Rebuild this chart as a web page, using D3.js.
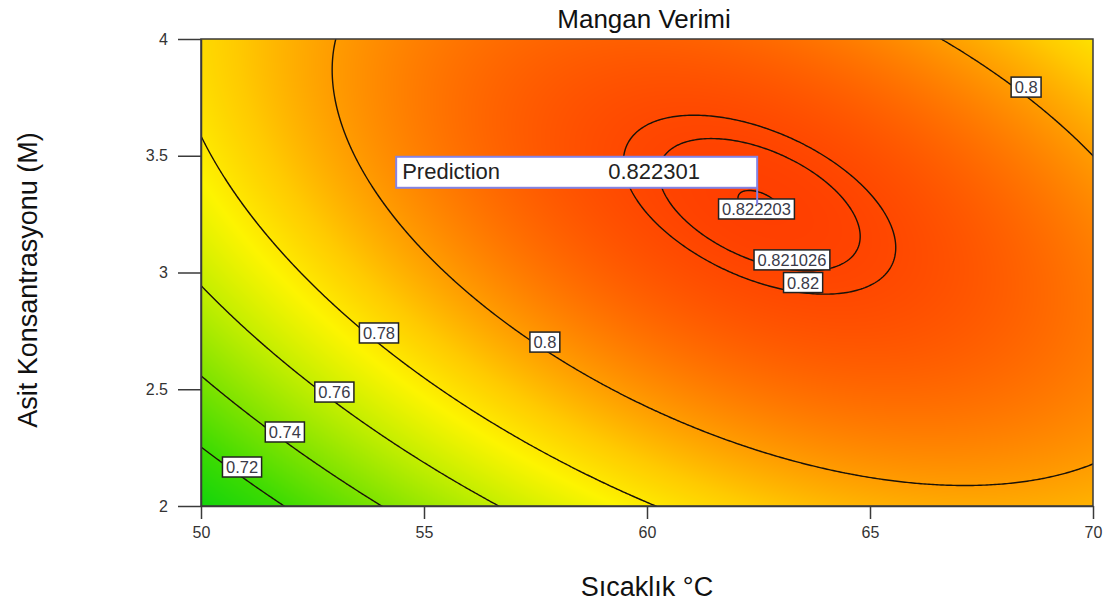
<!DOCTYPE html>
<html>
<head>
<meta charset="utf-8">
<script src="https://cdn.jsdelivr.net/npm/d3@7"></script>
<style>
  body { margin: 0; background: #fff; }
  svg { display: block; font-family: "Liberation Sans", Arial, sans-serif; }
</style>
</head>
<body>
<svg id="chart" width="1107" height="605"></svg>
<script>
// ---------------- data ----------------
const chartTitle = "Mangan Verimi";
const xAxisTitle = "Sıcaklık °C";
const yAxisTitle = "Asit Konsantrasyonu (M)";
const xDomain = [50, 70];            // temperature °C
const yDomain = [2, 4];              // acid concentration M
const xTickValues = [50, 55, 60, 65, 70];
const xTickLabels = ["50", "55", "60", "65", "70"];
const yTickValues = [2, 2.5, 3, 3.5, 4];
const yTickLabels = ["2", "2.5", "3", "3.5", "4"];

// fitted quadratic response surface, coded units: A = (T-60)/10, B = (C-3)/1
const modelTerms = ["Intercept", "A", "B", "AB", "A²", "B²"];
const modelCoefficients = [0.8168, 0.0229, 0.0177, -0.0241, -0.0315, -0.0200];

const contourLevels = [0.72, 0.74, 0.76, 0.78, 0.80, 0.82, 0.821026, 0.822203];
const labelTexts = ["0.72", "0.74", "0.76", "0.78", "0.8", "0.8", "0.82", "0.821026", "0.822203"];
const labelTemps = [50.92, 51.88, 52.99, 53.99, 57.71, 68.50, 63.50, 63.25, 62.455];
const labelAcids = [2.167, 2.317, 2.488, 2.741, 2.702, 3.794, 2.957, 3.054, 3.272];

const predictionLabel = "Prediction";
const predictionValue = "0.822301";
const predictionPoint = [62.47, 3.29];

const colorValues = [0.700, 0.720, 0.740, 0.760, 0.776, 0.789, 0.800, 0.812, 0.8225];
const colorList = ["#12d40c", "#3cdb02", "#7ee300", "#c4ee00", "#fdf400", "#ffca00", "#ff9c00", "#ff6a00", "#ff3e00"];

// ---------------- setup ----------------
const svg = d3.select("#chart");
const plot = { left: 201, right: 1093, top: 39, bottom: 506 };
const W = plot.right - plot.left, H = plot.bottom - plot.top;

const x = d3.scaleLinear().domain(xDomain).range([plot.left, plot.right]);
const y = d3.scaleLinear().domain(yDomain).range([plot.bottom, plot.top]);
const color = d3.scaleLinear().domain(colorValues).range(colorList)
  .interpolate(d3.interpolateRgb).clamp(true);

function model(T, C) {
  const A = (T - 60) / 10, B = (C - 3);
  const c = modelCoefficients;
  return c[0] + c[1] * A + c[2] * B + c[3] * A * B + c[4] * A * A + c[5] * B * B;
}

// ---------------- colour field ----------------
const canvas = document.createElement("canvas");
canvas.width = W; canvas.height = H;
const ctx = canvas.getContext("2d");
const img = ctx.createImageData(W, H);
for (let j = 0; j < H; j++) {
  const C = y.invert(plot.top + j + 0.5);
  for (let i = 0; i < W; i++) {
    const T = x.invert(plot.left + i + 0.5);
    const rgb = d3.rgb(color(model(T, C)));
    const k = (j * W + i) * 4;
    img.data[k] = rgb.r; img.data[k + 1] = rgb.g; img.data[k + 2] = rgb.b; img.data[k + 3] = 255;
  }
}
ctx.putImageData(img, 0, 0);

svg.append("defs").append("clipPath").attr("id", "plotClip")
  .append("rect").attr("x", plot.left).attr("y", plot.top).attr("width", W).attr("height", H);

svg.append("image")
  .attr("x", plot.left).attr("y", plot.top).attr("width", W).attr("height", H)
  .attr("preserveAspectRatio", "none")
  .attr("href", canvas.toDataURL());

// ---------------- contour lines ----------------
const step = 2;
const gx0 = plot.left - 3 * step, gy0 = plot.top - 3 * step;
const nx = Math.ceil((W + 6 * step) / step) + 1;
const ny = Math.ceil((H + 6 * step) / step) + 1;
const values = new Array(nx * ny);
for (let j = 0; j < ny; j++) {
  const C = y.invert(gy0 + j * step);
  for (let i = 0; i < nx; i++) {
    values[i + j * nx] = model(x.invert(gx0 + i * step), C);
  }
}
const contours = d3.contours().size([nx, ny]).thresholds(contourLevels)(values);
const proj = d3.geoTransform({
  point(px, py) { this.stream.point(gx0 + (px - 0.5) * step, gy0 + (py - 0.5) * step); }
});
const path = d3.geoPath(proj);
svg.append("g").attr("clip-path", "url(#plotClip)")
  .selectAll("path").data(contours).join("path")
  .attr("d", path)
  .attr("fill", "none")
  .attr("stroke", "#1a1208")
  .attr("stroke-width", 1.4);

// ---------------- frame & axes ----------------
svg.append("rect")
  .attr("x", plot.left).attr("y", plot.top).attr("width", W).attr("height", H)
  .attr("fill", "none").attr("stroke", "#3a3a3a").attr("stroke-width", 1.5);

const xAxis = d3.axisBottom(x).tickValues(xTickValues)
  .tickFormat((d, i) => xTickLabels[i]).tickSize(13).tickSizeOuter(0).tickPadding(8);
const gx = svg.append("g").attr("transform", `translate(0,${plot.bottom})`).call(xAxis);
const yAxis = d3.axisLeft(y).tickValues(yTickValues)
  .tickFormat((d, i) => yTickLabels[i]).tickSize(23).tickSizeOuter(0).tickPadding(10);
const gy = svg.append("g").attr("transform", `translate(${plot.left},0)`).call(yAxis);
[gx, gy].forEach(g => {
  g.select(".domain").attr("stroke", "#3a3a3a").attr("stroke-width", 1.5);
  g.selectAll(".tick line").attr("stroke", "#3a3a3a").attr("stroke-width", 1.5);
  g.selectAll(".tick text").attr("fill", "#333").style("font-size", "16px")
    .style("font-family", "'Liberation Sans', Arial, sans-serif");
});

// ---------------- contour labels ----------------
const lg = svg.append("g");
labelTexts.forEach((t, i) => {
  const cx = x(labelTemps[i]), cy = y(labelAcids[i]);
  const g = lg.append("g");
  const rect = g.append("rect");
  const txt = g.append("text").text(t)
    .attr("x", cx).attr("y", cy + 6)
    .attr("text-anchor", "middle")
    .style("font-size", "16.5px")
    .attr("fill", "#3a3a48");
  const w = txt.node().getComputedTextLength() + 7;
  rect.attr("x", cx - w / 2).attr("y", cy - 10).attr("width", w).attr("height", 20)
    .attr("fill", "#fff").attr("stroke", "#222").attr("stroke-width", 1.5);
});

// ---------------- prediction flag ----------------
const ppx = x(predictionPoint[0]), ppy = y(predictionPoint[1]);
const boxW = 361, boxH = 31, boxBottom = ppy - 17;
const pg = svg.append("g");
pg.append("line")
  .attr("x1", ppx).attr("x2", ppx).attr("y1", boxBottom).attr("y2", ppy)
  .attr("stroke", "#7f7fe6").attr("stroke-width", 2);
pg.append("rect")
  .attr("x", ppx - boxW).attr("y", boxBottom - boxH).attr("width", boxW).attr("height", boxH)
  .attr("fill", "#fff").attr("stroke", "#8484e4").attr("stroke-width", 2);
pg.append("text").text(predictionLabel)
  .attr("x", ppx - boxW + 6).attr("y", boxBottom - 9)
  .style("font-size", "22px").attr("fill", "#222");
pg.append("text").text(predictionValue)
  .attr("x", ppx - boxW + 212).attr("y", boxBottom - 9)
  .style("font-size", "22px").attr("fill", "#222");

// ---------------- titles ----------------
svg.append("text").text(chartTitle)
  .attr("x", (plot.left + plot.right) / 2 - 3).attr("y", 28)
  .attr("text-anchor", "middle").style("font-size", "26px").attr("fill", "#111");
svg.append("text").text(xAxisTitle)
  .attr("x", (plot.left + plot.right) / 2).attr("y", 596)
  .attr("text-anchor", "middle").style("font-size", "27px").attr("fill", "#111");
svg.append("text").text(yAxisTitle)
  .attr("transform", `translate(37,280) rotate(-90)`)
  .attr("text-anchor", "middle").style("font-size", "27px").attr("fill", "#111");
</script>
</body>
</html>
